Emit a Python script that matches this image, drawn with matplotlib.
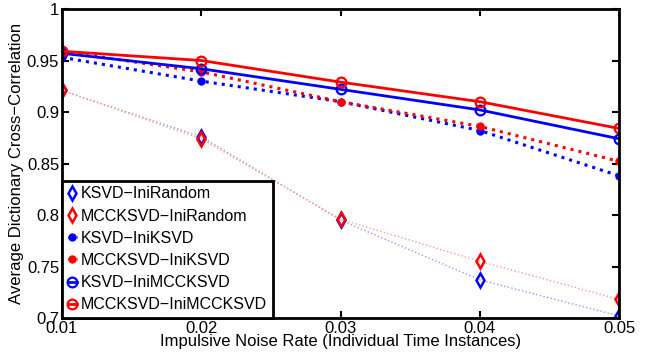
import matplotlib
matplotlib.use('Agg')
import matplotlib.pyplot as plt

plt.rcParams['font.family'] = ['Liberation Sans', 'DejaVu Sans']

# Data
noise_rate = [0.01, 0.02, 0.03, 0.04, 0.05]
ksvd_random = [0.921, 0.876, 0.795, 0.737, 0.702]
mcc_random = [0.921, 0.874, 0.796, 0.755, 0.718]
ksvd_iniksvd = [0.953, 0.930, 0.910, 0.882, 0.838]
mcc_iniksvd = [0.959, 0.939, 0.910, 0.886, 0.852]
ksvd_inimcc = [0.957, 0.942, 0.922, 0.902, 0.874]
mcc_inimcc = [0.959, 0.950, 0.929, 0.910, 0.884]

fig = plt.figure(figsize=(6.65, 3.56), dpi=100)
ax = fig.add_axes([0.0932, 0.1067, 0.838, 0.868])

# Thin faded lines for the random init, markers drawn on top
ax.plot(noise_rate, ksvd_random, color='#9999ff', linestyle=':', linewidth=1)
ax.plot(noise_rate, mcc_random, color='#ff9999', linestyle=':', linewidth=1)
ax.plot(noise_rate, ksvd_random, 'd', color='blue', markerfacecolor='none',
        markeredgewidth=1.8, markersize=7, label='KSVD\u2212IniRandom')
ax.plot(noise_rate, mcc_random, 'd', color='red', markerfacecolor='none',
        markeredgewidth=1.8, markersize=7, label='MCCKSVD\u2212IniRandom')

ax.plot(noise_rate, ksvd_iniksvd, ':', marker='.', color='blue', linewidth=2.2,
        markersize=10, label='KSVD\u2212IniKSVD')
ax.plot(noise_rate, mcc_iniksvd, ':', marker='.', color='red', linewidth=2.2,
        markersize=10, label='MCCKSVD\u2212IniKSVD')
ax.plot(noise_rate, ksvd_inimcc, '-', marker='o', color='blue', linewidth=2,
        markerfacecolor='none', markeredgewidth=1.6, markersize=7,
        label='KSVD\u2212IniMCCKSVD')
ax.plot(noise_rate, mcc_inimcc, '-', marker='o', color='red', linewidth=2,
        markerfacecolor='none', markeredgewidth=1.6, markersize=7,
        label='MCCKSVD\u2212IniMCCKSVD')

ax.set_xlim(0.01, 0.05)
ax.set_ylim(0.7, 1.0)
ax.set_xticks(noise_rate)
ax.set_xticklabels(['0.01', '0.02', '0.03', '0.04', '0.05'])
ax.set_yticks([0.7, 0.75, 0.8, 0.85, 0.9, 0.95, 1.0])
ax.set_yticklabels(['0.7', '0.75', '0.8', '0.85', '0.9', '0.95', '1'])
ax.tick_params(direction='in', length=5, width=1.5, labelsize=12, pad=2,
               top=True, right=True)
for spine in ax.spines.values():
    spine.set_linewidth(2)

ax.set_xlabel('Impulsive Noise Rate (Individual Time Instances)', fontsize=12, labelpad=-1)
ax.set_ylabel('Average Dictionary Cross\u2212Correlation', fontsize=12, labelpad=2)

leg = ax.legend(loc='lower left', bbox_to_anchor=(0.0, 0.0), fontsize=11.5,
                handlelength=0.6, handletextpad=0.25, labelspacing=0.45,
                borderpad=0.35, borderaxespad=0.0, fancybox=False,
                framealpha=1, edgecolor='black')
leg.get_frame().set_linewidth(2)

fig.savefig('out.png', dpi=100)
